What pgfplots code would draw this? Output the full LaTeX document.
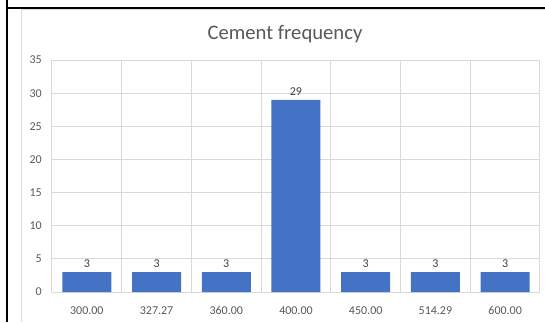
\documentclass[border=0pt]{standalone}
\usepackage{pgfplots}
\pgfplotsset{compat=1.18}
\usepackage{fontspec}
\setmainfont{Carlito}
\definecolor{barblue}{HTML}{4472C4}
\definecolor{gridgray}{HTML}{D9D9D9}
\definecolor{labelgray}{HTML}{595959}
\definecolor{datagray}{HTML}{404040}

\begin{document}
\begin{tikzpicture}[x=0.75pt,y=0.75pt]
  \useasboundingbox (0,0) rectangle (545,322);
  \fill[white] (0,0) rectangle (545,322);
  % chart area frame
  \draw[gridgray, line width=0.75pt] (21,0) -- (21,312) -- (545,312);
  % page rules
  \draw[black, line width=1.5pt] (7,0) -- (7,322);
  \draw[black, line width=1.5pt] (7,314) -- (545,314);
  % title
  \node[text=labelgray, font=\fontsize{15.5}{18}\selectfont] at (285,288) {Cement frequency};

  \begin{axis}[
    at={(39pt,22.5pt)}, anchor=south west,
    scale only axis, width=366pt, height=174pt,
    xmin=-0.5, xmax=6.5, ymin=0, ymax=35,
    ybar, bar width=36.75pt,
    xtick={0,...,6},
    xticklabels={300.00,327.27,360.00,400.00,450.00,514.29,600.00},
    minor xtick={-0.5,0.5,...,6.5},
    xminorgrids=true,
    ytick={0,5,...,35},
    ymajorgrids=true,
    major grid style={gridgray, line width=0.75pt},
    minor grid style={gridgray, line width=0.75pt},
    axis line style={draw=none},
    major tick length=0pt, minor tick length=0pt,
    /pgf/number format/assume math mode=true,
    tick label style={font=\fontsize{9}{10}\selectfont, text=labelgray},
    xticklabel style={anchor=north, inner sep=0pt, yshift=-10.5pt},
    yticklabel style={anchor=east, inner sep=0pt, xshift=-7.5pt},
    nodes near coords,
    nodes near coords style={font=\fontsize{9}{10}\selectfont, text=datagray, anchor=south, inner sep=1pt, yshift=2.25pt},
  ]
    \addplot[fill=barblue, draw=none] coordinates {
      (0,3) (1,3) (2,3) (3,29) (4,3) (5,3) (6,3)
    };
  \end{axis}
\end{tikzpicture}
\end{document}
